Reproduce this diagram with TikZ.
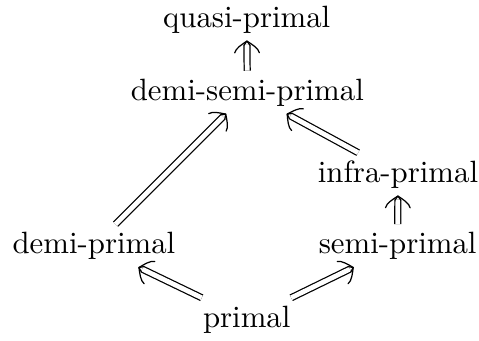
\documentclass[tikz,border=0pt]{standalone}
\usetikzlibrary{arrows.meta}
\pgfdeclarearrow{
  name = bigimp,
  parameters = {},
  setup code = {
    \pgfarrowssettipend{0pt}
    \pgfarrowssetlineend{-1.2pt}
    \pgfarrowssetvisualbackend{-3.8pt}
    \pgfarrowssetbackend{-3.8pt}
    \pgfarrowshullpoint{0pt}{0pt}
    \pgfarrowsupperhullpoint{-3.8pt}{4pt}
  },
  drawing code = {
    \pgfsetdash{}{0pt}
    \pgfsetlinewidth{0.4pt}
    \pgfsetroundcap
    \pgfsetroundjoin
    \pgfpathmoveto{\pgfqpoint{-3.8pt}{4pt}}
    \pgfpathcurveto{\pgfqpoint{-2.4pt}{3.8pt}}{\pgfqpoint{-0.9pt}{1.4pt}}{\pgfqpoint{0pt}{0pt}}
    \pgfpathcurveto{\pgfqpoint{-0.9pt}{-1.4pt}}{\pgfqpoint{-2.4pt}{-3.8pt}}{\pgfqpoint{-3.8pt}{-4pt}}
    \pgfusepathqstroke
    \pgfpathmoveto{\pgfqpoint{-1.3pt}{0.95pt}}
    \pgfpathlineto{\pgfqpoint{0pt}{0pt}}
    \pgfpathlineto{\pgfqpoint{-1.3pt}{-0.95pt}}
    \pgfusepathqstroke
  }
}
\begin{document}
\begin{tikzpicture}[x=1pt,y=-1pt,
  cell/.style={anchor=base, inner xsep=1ex, inner ysep=2.4pt, text height=6.94pt, text depth=1.94pt},
  imp/.style={double equal sign distance, line width=0.4pt, -{bigimp}}]
\useasboundingbox (0,0) rectangle (155.5,110.4);
\node[cell] (q) at (80.1,8.8) {quasi-primal};
\node[cell] (ds) at (80.3,32.5) {demi-semi-primal};
\node[cell] (ip) at (129.2,59.1) {infra-primal};
\node[cell] (dp) at (30.5,82.3) {demi-primal};
\node[cell] (sp) at (129.1,82.3) {semi-primal};
\node[cell] (p) at (80.1,106.2) {primal};
\draw[imp] (ds) -- (q);
\draw[imp] (dp) -- (ds);
\draw[imp] (ip) -- (ds);
\draw[imp] (sp) -- (ip);
\draw[imp] (p) -- (dp);
\draw[imp] (p) -- (sp);
\end{tikzpicture}
\end{document}
